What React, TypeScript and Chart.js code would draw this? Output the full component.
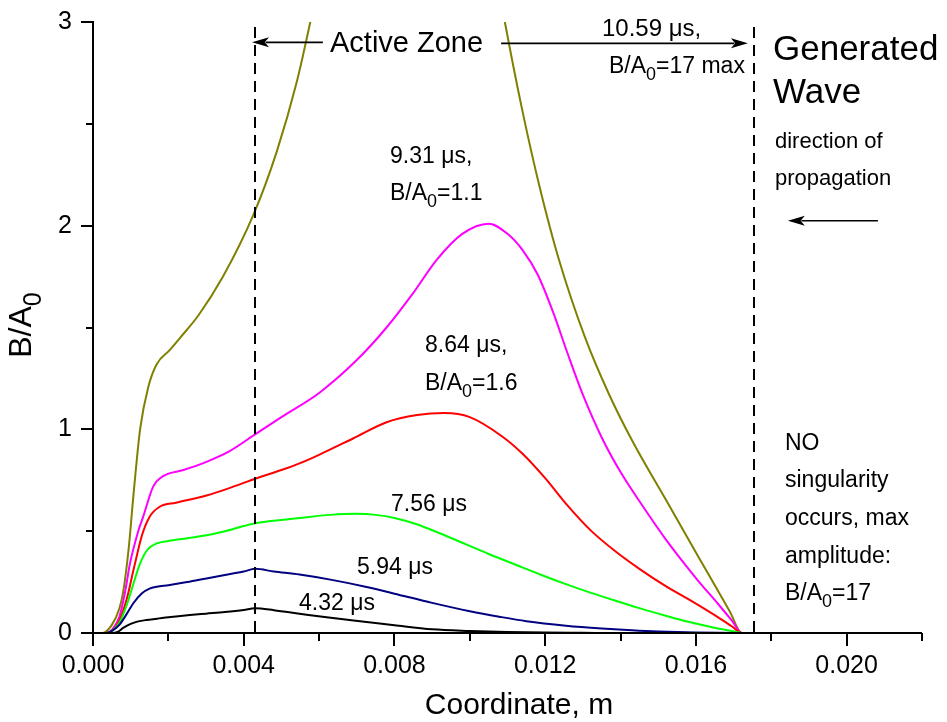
import React, { useEffect, useRef } from "react";
import { Chart, registerables } from "chart.js";

Chart.register(...registerables);

const FONT = '"Liberation Sans", Arial, Helvetica, sans-serif';

// ---- data (x in metres, y = B/A0) ----
const x1059 = [0, 0.00025, 0.0005, 0.0007, 0.0008, 0.00095, 0.00107, 0.00125, 0.00147, 0.00169, 0.00204, 0.0023, 0.0028, 0.00345, 0.00425, 0.00487, 0.0054, 0.00579, 0.0061, 0.0065, 0.007, 0.008, 0.0086, 0.0092, 0.01, 0.0105, 0.01094, 0.0114, 0.01184, 0.01237, 0.01306, 0.0137, 0.01435, 0.0152, 0.01608, 0.0169, 0.01722, 0.022];
const y1059 = [0, 0, 0.04, 0.12, 0.2, 0.42, 0.67, 1.0, 1.21, 1.32, 1.39, 1.447, 1.56, 1.75, 2.05, 2.36, 2.7, 3.02, 3.3, 3.72, 4.4, 9.0, 17, 11, 4.6, 3.45, 2.99, 2.56, 2.2, 1.83, 1.45, 1.17, 0.93, 0.655, 0.37, 0.105, 0, 0];

const x931 = [0, 0.00035, 0.0005, 0.0007, 0.00085, 0.00098, 0.0012, 0.00133, 0.0016, 0.00186, 0.0024, 0.00301, 0.0036, 0.00434, 0.005, 0.00601, 0.007, 0.00779, 0.0085, 0.00911, 0.0098, 0.0105, 0.011, 0.0114, 0.0118, 0.0122, 0.0126, 0.013, 0.0135, 0.014, 0.0146, 0.0152, 0.016, 0.0166, 0.01695, 0.01722, 0.022];
const y931 = [0, 0, 0.015, 0.08, 0.2, 0.34, 0.5, 0.57, 0.72, 0.77, 0.8, 0.84, 0.89, 0.98, 1.06, 1.18, 1.34, 1.5, 1.67, 1.83, 1.96, 2.01, 1.96, 1.88, 1.76, 1.58, 1.37, 1.17, 0.96, 0.79, 0.62, 0.46, 0.27, 0.14, 0.062, 0, 0];

const x864 = [0, 0.00035, 0.0005, 0.0007, 0.0009, 0.0011, 0.0013, 0.0015, 0.00177, 0.0022, 0.00301, 0.0036, 0.00434, 0.005, 0.00548, 0.006, 0.0069, 0.00779, 0.0086, 0.00932, 0.01, 0.01086, 0.0114, 0.012, 0.01255, 0.0132, 0.01387, 0.0145, 0.0152, 0.0159, 0.01652, 0.01695, 0.01722, 0.022];
const y864 = [0, 0, 0.01, 0.06, 0.17, 0.33, 0.48, 0.57, 0.62, 0.64, 0.675, 0.71, 0.76, 0.8, 0.833, 0.875, 0.955, 1.035, 1.07, 1.08, 1.06, 0.965, 0.88, 0.76, 0.635, 0.505, 0.4, 0.315, 0.23, 0.155, 0.085, 0.033, 0, 0];

const x756 = [0, 0.00035, 0.0005, 0.0007, 0.0009, 0.00107, 0.001245, 0.00145, 0.00169, 0.002, 0.0025, 0.00301, 0.0035, 0.004, 0.00434, 0.005, 0.00548, 0.0063, 0.007, 0.0075, 0.008, 0.00857, 0.0092, 0.0099, 0.0105, 0.01122, 0.0119, 0.01255, 0.0132, 0.01387, 0.0145, 0.0152, 0.0158, 0.01652, 0.01695, 0.01722, 0.022];
const y756 = [0, 0, 0.01, 0.05, 0.14, 0.24, 0.34, 0.41, 0.44, 0.452, 0.465, 0.48, 0.5, 0.525, 0.54, 0.555, 0.565, 0.58, 0.585, 0.58, 0.565, 0.535, 0.49, 0.435, 0.388, 0.335, 0.285, 0.24, 0.198, 0.158, 0.122, 0.085, 0.055, 0.025, 0.01, 0, 0];

const x594 = [0, 0.00036, 0.0005, 0.0007, 0.0009, 0.00107, 0.0013, 0.0015, 0.00169, 0.002, 0.0025, 0.00301, 0.0035, 0.004, 0.0043, 0.0048, 0.00548, 0.0063, 0.00726, 0.008, 0.009, 0.01, 0.01078, 0.0115, 0.01255, 0.0135, 0.0143, 0.015, 0.016, 0.01722, 0.022];
const y594 = [0, 0, 0.01, 0.04, 0.095, 0.146, 0.195, 0.218, 0.227, 0.235, 0.25, 0.268, 0.285, 0.302, 0.315, 0.302, 0.287, 0.262, 0.226, 0.193, 0.148, 0.107, 0.08, 0.058, 0.036, 0.022, 0.013, 0.007, 0.002, 0, 0];

const x432 = [0, 0.0005, 0.00065, 0.0008, 0.001, 0.0012, 0.00142, 0.0017, 0.002, 0.00257, 0.003, 0.0035, 0.004, 0.0043, 0.0048, 0.00548, 0.0062, 0.00726, 0.008, 0.009, 0.01, 0.011, 0.012, 0.013, 0.014, 0.022];
const y432 = [0, 0, 0.005, 0.025, 0.045, 0.057, 0.064, 0.07, 0.077, 0.088, 0.095, 0.103, 0.113, 0.121, 0.112, 0.095, 0.077, 0.054, 0.038, 0.018, 0.01, 0.005, 0.002, 0.001, 0, 0];

const xTickValues = [0, 0.004, 0.008, 0.012, 0.016, 0.02];
const xMinorTickValues = [0.002, 0.006, 0.01, 0.014, 0.018, 0.022];
const yTickValues = [0, 1, 2, 3];
const yMinorTickValues = [0.5, 1.5, 2.5];

const activeZoneStart = 0.0043;
const waveFront = 0.01755;

type Seg = [string, boolean];

function pts(xs: number[], ys: number[]) {
  return xs.map((x, i) => ({ x, y: ys[i] }));
}

function richText(ctx: CanvasRenderingContext2D, segs: Seg[], x: number, y: number, size: number, align = "left") {
  const subSize = size * 0.78;
  const widths = segs.map(([t, sub]) => {
    ctx.font = `${sub ? subSize : size}px ${FONT}`;
    return ctx.measureText(t).width;
  });
  const total = widths.reduce((a, b) => a + b, 0);
  let cx = align === "center" ? x - total / 2 : align === "right" ? x - total : x;
  ctx.textAlign = "left";
  ctx.textBaseline = "alphabetic";
  segs.forEach(([t, sub], i) => {
    ctx.font = `${sub ? subSize : size}px ${FONT}`;
    ctx.fillText(t, cx, sub ? y + size * 0.32 : y);
    cx += widths[i];
  });
}

function arrow(ctx: CanvasRenderingContext2D, xFrom: number, xTip: number, y: number) {
  const dir = xTip > xFrom ? 1 : -1;
  const len = 17;
  const hw = 5;
  ctx.beginPath();
  ctx.moveTo(xFrom, y);
  ctx.lineTo(xTip - dir * len * 0.8, y);
  ctx.stroke();
  ctx.beginPath();
  ctx.moveTo(xTip, y);
  ctx.lineTo(xTip - dir * len, y - hw);
  ctx.lineTo(xTip - dir * len * 0.75, y);
  ctx.lineTo(xTip - dir * len, y + hw);
  ctx.closePath();
  ctx.fill();
}

const axesPlugin = {
  id: "axesPlugin",
  beforeDatasetsDraw(chart: any) {
    const { ctx, chartArea: a, scales } = chart;
    const xs = scales.x;
    const ys = scales.y;
    ctx.save();
    ctx.strokeStyle = "#000";
    ctx.lineWidth = 2;
    ctx.beginPath();
    ctx.moveTo(a.left, a.top - 1);
    ctx.lineTo(a.left, a.bottom);
    ctx.lineTo(a.right, a.bottom);
    ctx.stroke();
    ctx.beginPath();
    xTickValues.forEach((v) => {
      const p = Math.round(xs.getPixelForValue(v));
      ctx.moveTo(p, a.bottom);
      ctx.lineTo(p, a.bottom + 13);
    });
    xMinorTickValues.forEach((v) => {
      const p = Math.round(xs.getPixelForValue(v));
      ctx.moveTo(p, a.bottom);
      ctx.lineTo(p, a.bottom + 8);
    });
    yTickValues.forEach((v) => {
      const p = Math.round(ys.getPixelForValue(v));
      ctx.moveTo(a.left, p);
      ctx.lineTo(a.left - 12, p);
    });
    yMinorTickValues.forEach((v) => {
      const p = Math.round(ys.getPixelForValue(v));
      ctx.moveTo(a.left, p);
      ctx.lineTo(a.left - 7, p);
    });
    ctx.stroke();
    ctx.restore();
  },
};

const annotationPlugin = {
  id: "annotationPlugin",
  afterDatasetsDraw(chart: any) {
    const { ctx, chartArea: a, scales } = chart;
    const xs = scales.x;
    const ys = scales.y;
    ctx.save();
    ctx.fillStyle = "#000";
    ctx.strokeStyle = "#000";

    // dashed vertical lines
    ctx.lineWidth = 2;
    ctx.setLineDash([11, 7]);
    [activeZoneStart, waveFront].forEach((v) => {
      const p = Math.round(xs.getPixelForValue(v));
      ctx.beginPath();
      ctx.moveTo(p, ys.getPixelForValue(2.975));
      ctx.lineTo(p, a.bottom);
      ctx.stroke();
    });
    ctx.setLineDash([]);

    // arrows
    ctx.lineWidth = 1.6;
    const yArrow = ys.getPixelForValue(2.9);
    arrow(ctx, xs.getPixelForValue(0.0061), xs.getPixelForValue(0.00422), yArrow);
    arrow(ctx, xs.getPixelForValue(0.01083), xs.getPixelForValue(0.01738), yArrow + 1);
    arrow(ctx, xs.getPixelForValue(0.02083), xs.getPixelForValue(0.01844), ys.getPixelForValue(2.024));

    // texts
    richText(ctx, [["Active Zone", false]], 330, 52, 29);
    richText(ctx, [["10.59 \u03bcs,", false]], 602, 36, 24);
    richText(ctx, [["B/A", false], ["0", true], ["=17 max", false]], 609, 73, 23);
    richText(ctx, [["Generated", false]], 773, 60, 35);
    richText(ctx, [["Wave", false]], 773, 103, 35);
    richText(ctx, [["direction of", false]], 775, 148, 22);
    richText(ctx, [["propagation", false]], 775, 185, 22);

    richText(ctx, [["9.31 \u03bcs,", false]], 390, 163, 23);
    richText(ctx, [["B/A", false], ["0", true], ["=1.1", false]], 390, 200, 23);
    richText(ctx, [["8.64 \u03bcs,", false]], 425, 352, 23);
    richText(ctx, [["B/A", false], ["0", true], ["=1.6", false]], 425, 390, 23);
    richText(ctx, [["7.56 \u03bcs", false]], 391, 511, 23);
    richText(ctx, [["5.94 \u03bcs", false]], 357, 574, 23);
    richText(ctx, [["4.32 \u03bcs", false]], 299, 610, 23);

    richText(ctx, [["NO", false]], 785, 450, 23);
    richText(ctx, [["singularity", false]], 785, 487, 23);
    richText(ctx, [["occurs, max", false]], 785, 525, 23);
    richText(ctx, [["amplitude:", false]], 785, 563, 23);
    richText(ctx, [["B/A", false], ["0", true], ["=17", false]], 785, 600, 23);

    // axis titles
    richText(ctx, [["Coordinate, m", false]], 519, 714, 30, "center");
    ctx.save();
    ctx.translate(31, 325);
    ctx.rotate(-Math.PI / 2);
    richText(ctx, [["B/A", false], ["0", true]], 0, 0, 32, "center");
    ctx.restore();

    ctx.restore();
  },
};

export default function App() {
  const canvasRef = useRef<HTMLCanvasElement | null>(null);

  useEffect(() => {
    const canvas = canvasRef.current;
    if (!canvas) return;
    const line = (data: { x: number; y: number }[], color: string) => ({
      data,
      borderColor: color,
      backgroundColor: color,
      borderWidth: 2,
      pointRadius: 0,
      fill: false,
      cubicInterpolationMode: "monotone" as const,
    });
    const chart = new Chart(canvas, {
      type: "line",
      data: {
        datasets: [
          line(pts(x432, y432), "#000000"),
          line(pts(x594, y594), "#000080"),
          line(pts(x756, y756), "#00ff00"),
          line(pts(x864, y864), "#ff0000"),
          line(pts(x931, y931), "#ff00ff"),
          line(pts(x1059, y1059), "#808000"),
        ],
      },
      options: {
        responsive: false,
        animation: false,
        devicePixelRatio: 1,
        layout: { padding: { top: 22, right: 25, left: 0, bottom: 0 } },
        plugins: { legend: { display: false }, tooltip: { enabled: false } },
        scales: {
          x: {
            type: "linear",
            min: 0,
            max: 0.022,
            afterFit: (s: any) => {
              s.height = 89;
              s.paddingLeft = 0;
              s.paddingRight = 0;
            },
            afterBuildTicks: (s: any) => {
              s.ticks = xTickValues.map((v) => ({ value: v }));
            },
            grid: { display: false, drawTicks: false, tickLength: 0 },
            border: { display: false },
            ticks: {
              padding: 18,
              color: "#000",
              maxRotation: 0,
              autoSkip: false,
              font: { family: FONT, size: 25 },
              callback: (v: any) => Number(v).toFixed(3),
            },
          },
          y: {
            type: "linear",
            min: 0,
            max: 3,
            afterFit: (s: any) => {
              s.width = 93;
              s.paddingTop = 0;
              s.paddingBottom = 0;
            },
            afterBuildTicks: (s: any) => {
              s.ticks = yTickValues.map((v) => ({ value: v }));
            },
            grid: { display: false, drawTicks: false, tickLength: 0 },
            border: { display: false },
            ticks: {
              padding: 21,
              color: "#000",
              font: { family: FONT, size: 25 },
              callback: (v: any) => String(v),
            },
          },
        },
      },
      plugins: [axesPlugin, annotationPlugin],
    });
    return () => chart.destroy();
  }, []);

  return (
    <div style={{ position: "fixed", left: 0, top: 0, width: 947, height: 722, background: "#fff" }}>
      <canvas ref={canvasRef} width={947} height={722} style={{ display: "block" }} />
    </div>
  );
}
